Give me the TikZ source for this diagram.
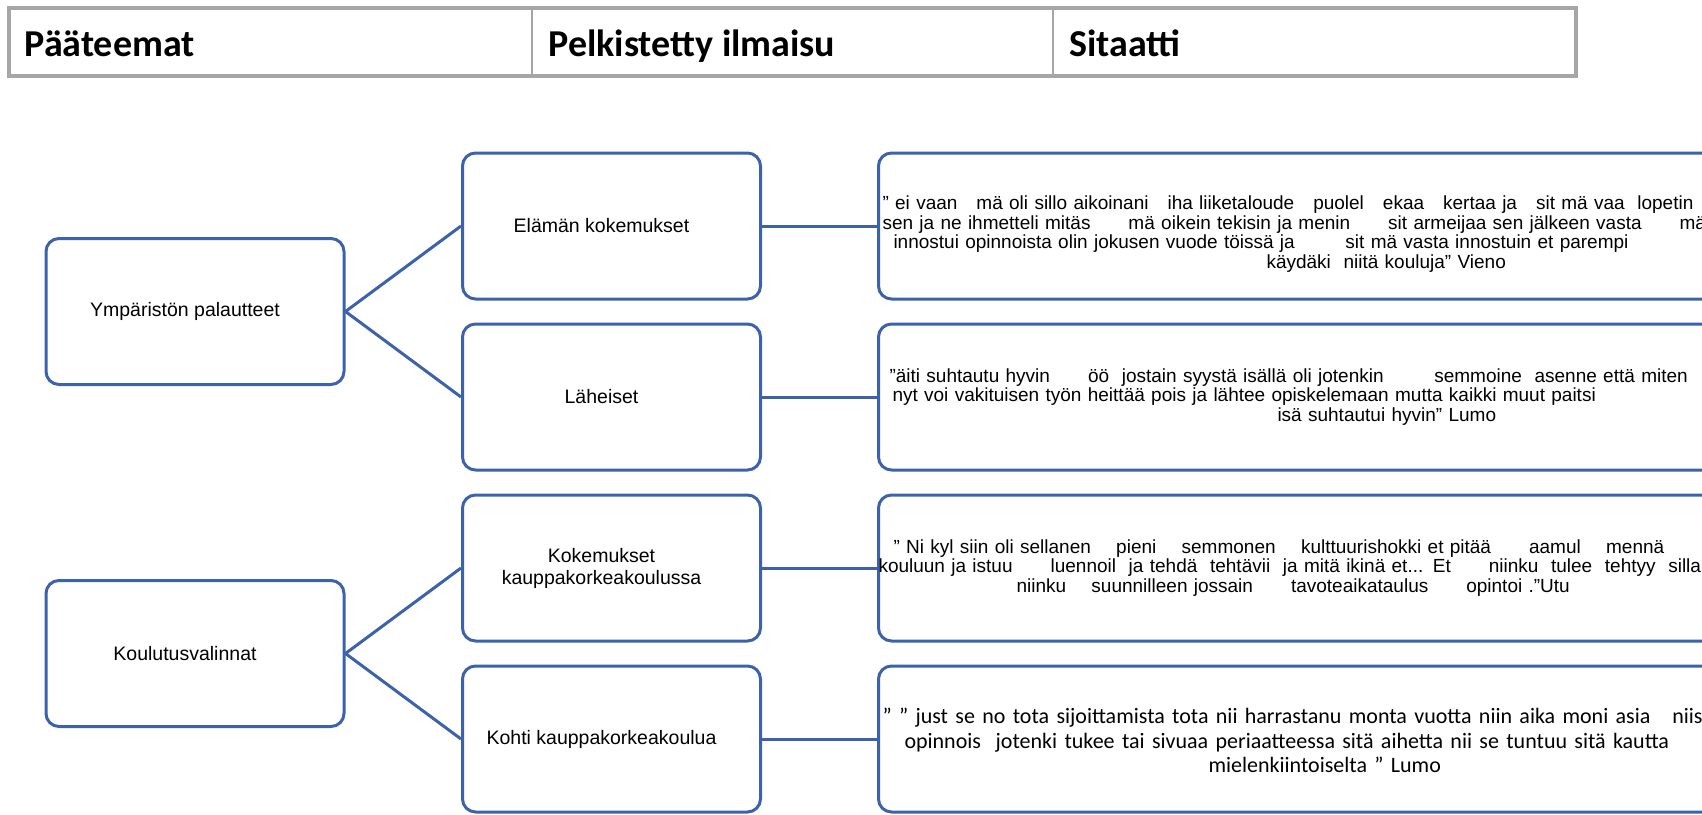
\documentclass[tikz,border=0pt]{standalone}
\usepackage{fontspec}
\setmainfont{Liberation Sans}
\newfontfamily\calibri{Carlito}
\definecolor{smartblue}{RGB}{61,98,172}
\definecolor{headgray}{RGB}{166,166,166}

\begin{document}
\begin{tikzpicture}[x = 1pt, y = -1pt,
	box/.style = {draw = smartblue, line width = 3pt, rounded corners = 13pt, minimum width = 298pt, minimum height = 146pt, inner sep = 0pt, align = center, font = \fontsize{19.5}{22}\selectfont},
	quote/.style = {draw = smartblue, line width = 3pt, rounded corners = 13pt, minimum height = 146pt, text width = 875pt, inner xsep = 4pt, inner ysep = 0pt, align = left, anchor = west, font = \fontsize{19}{19.7}\selectfont},
	link/.style = {smartblue, line width = 3pt},
	head/.style = {anchor = base west, font = \calibri\bfseries\fontsize{38}{42}\selectfont}]
	\useasboundingbox (0, 0) rectangle (1702, 814);

	%	header
	\draw[headgray, line width = 3.5pt] (9, 8) rectangle (1576, 76);
	\draw[headgray, line width = 2pt] (532, 8) -- (532, 76);
	\draw[headgray, line width = 2pt] (1053, 8) -- (1053, 76);
	\node[head] (paa) at (21, 56) {Pääteemat};
	\node[head] (pel) at (545, 56) {Pelkistetty ilmaisu};
	\node[head] (sit) at (1066, 56) {Sitaatti};

	%	teemat (teksti hieman vasemmalle)
	\def\sh{\hspace*{20pt}}
	\node[box] (ymp) at (195, 311.5) {Ympäristön palautteet\sh};
	\node[box] (kou) at (195, 653.5) {Koulutusvalinnat\sh};

	%	ilmaisut
	\node[box] (ela) at (611.5, 226) {Elämän kokemukset\sh};
	\node[box] (lah) at (611.5, 397) {Läheiset\sh};
	\node[box] (kok) at (611.5, 568) {Kokemukset\sh\\kauppakorkeakoulussa\sh};
	\node[box] (koh) at (611.5, 739) {Kohti kauppakorkeakoulua\sh};

	%	sitaatit
	\node[quote] (q1) at (877, 226) {\mbox{}\\[10pt]
		”~ei vaan~~~mä oli sillo aikoinani~~~iha liiketaloude~~~puolel~~~ekaa~~~kertaa ja~~~sit mä vaa~~lopetin\\
		sen ja ne ihmetteli mitäs~~~~~~mä oikein tekisin ja menin~~~~~~sit armeijaa sen jälkeen vasta~~~~~~mä\\
		\hspace*{11pt}innostui opinnoista olin jokusen vuode töissä ja~~~~~~~~sit mä vasta innostuin et parempi\\
		\hspace*{384pt}käydäki~~niitä kouluja” Vieno};
	\node[quote] (q2) at (877, 397) {\hspace*{7pt}”äiti suhtautu hyvin~~~~~~öö~~jostain syystä isällä oli jotenkin~~~~~~~~semmoine~~asenne että miten\\
		\hspace*{10pt}nyt voi vakituisen työn heittää pois ja lähtee opiskelemaan mutta kaikki muut paitsi\\
		\hspace*{395pt}isä suhtautui hyvin” Lumo};
	\node[quote] (q3) at (877, 568) {\hspace*{11pt}” Ni kyl siin oli sellanen~~~~pieni~~~~semmonen~~~~kulttuurishokki et pitää~~~~~~aamul~~~~mennä\\
		\hspace*{-4pt}kouluun ja istuu~~~~~~luennoil~~ja tehdä~~tehtävii~~ja mitä ikinä et... Et~~~~~~niinku~~tulee~~tehtyy~~sillain\\
		\hspace*{134pt}niinku~~~~suunnilleen jossain~~~~~~tavoteaikataulus~~~~~~opintoi .”Utu};
	\node[quote, font = \calibri\fontsize{22}{24.5}\selectfont] (q4) at (877, 739) {\mbox{}\\[-6pt]
		” ” just se no tota sijoittamista tota nii harrastanu monta vuotta niin aika moni asia~~~niis\\
		\hspace*{22pt}opinnois~~jotenki tukee tai sivuaa periaatteessa sitä aihetta nii se tuntuu sitä kautta\\
		\hspace*{326pt}mielenkiintoiselta ” Lumo};

	%	yhteydet
	\draw[link] (ymp.east) -- (ela.west);
	\draw[link] (ymp.east) -- (lah.west);
	\draw[link] (kou.east) -- (kok.west);
	\draw[link] (kou.east) -- (koh.west);
	\draw[link] (ela.east) -- (q1.west);
	\draw[link] (lah.east) -- (q2.west);
	\draw[link] (kok.east) -- (q3.west);
	\draw[link] (koh.east) -- (q4.west);
\end{tikzpicture}
\end{document}
